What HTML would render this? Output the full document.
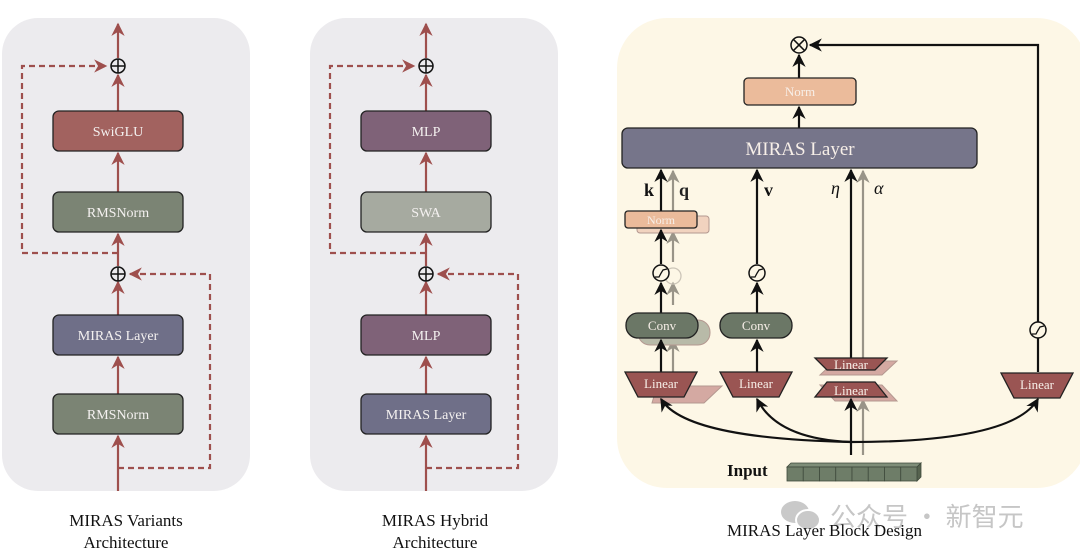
<!DOCTYPE html>
<html><head><meta charset="utf-8"><style>
html,body{margin:0;padding:0;background:#fff;width:1080px;height:558px;overflow:hidden}
svg text{font-family:"Liberation Serif",serif}
</style></head><body>
<svg width="1080" height="558" viewBox="0 0 1080 558" xmlns="http://www.w3.org/2000/svg">
<defs>
<marker id="ar" viewBox="0 0 10 10" refX="9" refY="5" markerWidth="6" markerHeight="6" orient="auto-start-reverse"><path d="M0,0 L10,5 L0,10 L3,5 Z" fill="#9e4f4d"/></marker>
<marker id="ab" viewBox="0 0 10 10" refX="9" refY="5" markerWidth="6" markerHeight="6" orient="auto-start-reverse"><path d="M0,0 L10,5 L0,10 L3,5 Z" fill="#111"/></marker>
<marker id="ag" viewBox="0 0 10 10" refX="9" refY="5" markerWidth="6" markerHeight="6" orient="auto-start-reverse"><path d="M0,0 L10,5 L0,10 L3,5 Z" fill="#999488"/></marker>
</defs>

<!-- Panel 1 -->
<rect x="2" y="18" width="248" height="473" rx="36" fill="#ecebee"/>
<g stroke="#9e4f4d" stroke-width="2.2" fill="none">
<line x1="118" y1="491" x2="118" y2="436" marker-end="url(#ar)"/>
<line x1="118" y1="394" x2="118" y2="357" marker-end="url(#ar)"/>
<line x1="118" y1="315" x2="118" y2="282" marker-end="url(#ar)"/>
<line x1="118" y1="266" x2="118" y2="234" marker-end="url(#ar)"/>
<line x1="118" y1="192" x2="118" y2="153" marker-end="url(#ar)"/>
<line x1="118" y1="111" x2="118" y2="75" marker-end="url(#ar)"/>
<line x1="118" y1="58" x2="118" y2="24" marker-end="url(#ar)"/>
<polyline points="118,253 22,253 22,66 106,66" stroke-dasharray="6,4" marker-end="url(#ar)"/>
<polyline points="118,468 210,468 210,274 130,274" stroke-dasharray="6,4" marker-end="url(#ar)"/>
</g>
<g stroke="#111" stroke-width="1.5" fill="none">
<circle cx="118" cy="66" r="7"/><line x1="111" y1="66" x2="125" y2="66"/><line x1="118" y1="59" x2="118" y2="73"/>
<circle cx="118" cy="274" r="7"/><line x1="111" y1="274" x2="125" y2="274"/><line x1="118" y1="267" x2="118" y2="281"/>
</g>
<g stroke="#222" stroke-width="1.3">
<rect x="53" y="111" width="130" height="40" rx="6" fill="#a2625f"/>
<rect x="53" y="192" width="130" height="40" rx="6" fill="#7b8474"/>
<rect x="53" y="315" width="130" height="40" rx="6" fill="#6f6f88"/>
<rect x="53" y="394" width="130" height="40" rx="6" fill="#7b8474"/>
</g>
<g fill="#f4f1f0" font-size="14" text-anchor="middle">
<text x="118" y="136">SwiGLU</text><text x="118" y="217">RMSNorm</text>
<text x="118" y="340">MIRAS Layer</text><text x="118" y="419">RMSNorm</text>
</g>
<g fill="#111" font-size="17" text-anchor="middle">
<text x="126" y="526">MIRAS Variants</text><text x="126" y="548">Architecture</text>
</g>

<!-- Panel 2 -->
<rect x="310" y="18" width="248" height="473" rx="36" fill="#ecebee"/>
<g stroke="#9e4f4d" stroke-width="2.2" fill="none">
<line x1="426" y1="491" x2="426" y2="436" marker-end="url(#ar)"/>
<line x1="426" y1="394" x2="426" y2="357" marker-end="url(#ar)"/>
<line x1="426" y1="315" x2="426" y2="282" marker-end="url(#ar)"/>
<line x1="426" y1="266" x2="426" y2="234" marker-end="url(#ar)"/>
<line x1="426" y1="192" x2="426" y2="153" marker-end="url(#ar)"/>
<line x1="426" y1="111" x2="426" y2="75" marker-end="url(#ar)"/>
<line x1="426" y1="58" x2="426" y2="24" marker-end="url(#ar)"/>
<polyline points="426,253 330,253 330,66 414,66" stroke-dasharray="6,4" marker-end="url(#ar)"/>
<polyline points="426,468 518,468 518,274 438,274" stroke-dasharray="6,4" marker-end="url(#ar)"/>
</g>
<g stroke="#111" stroke-width="1.5" fill="none">
<circle cx="426" cy="66" r="7"/><line x1="419" y1="66" x2="433" y2="66"/><line x1="426" y1="59" x2="426" y2="73"/>
<circle cx="426" cy="274" r="7"/><line x1="419" y1="274" x2="433" y2="274"/><line x1="426" y1="267" x2="426" y2="281"/>
</g>
<g stroke="#222" stroke-width="1.3">
<rect x="361" y="111" width="130" height="40" rx="6" fill="#7f6278"/>
<rect x="361" y="192" width="130" height="40" rx="6" fill="#a6aaa0"/>
<rect x="361" y="315" width="130" height="40" rx="6" fill="#7f6278"/>
<rect x="361" y="394" width="130" height="40" rx="6" fill="#6f6f88"/>
</g>
<g fill="#f4f1f0" font-size="14" text-anchor="middle">
<text x="426" y="136">MLP</text><text x="426" y="217">SWA</text>
<text x="426" y="340">MLP</text><text x="426" y="419">MIRAS Layer</text>
</g>
<g fill="#111" font-size="17" text-anchor="middle">
<text x="435" y="526">MIRAS Hybrid</text><text x="435" y="548">Architecture</text>
</g>

<!-- Panel 3 -->
<rect x="617" y="18" width="470" height="470" rx="50" fill="#fdf7e6"/>

<g stroke="#999488" stroke-width="2.2" fill="none">
<line x1="673" y1="397" x2="673" y2="340" marker-end="url(#ag)"/>
<line x1="673" y1="305" x2="673" y2="283" marker-end="url(#ag)"/>
<line x1="673" y1="262" x2="673" y2="232" marker-end="url(#ag)"/>
<line x1="673" y1="212" x2="673" y2="171" marker-end="url(#ag)"/>
<line x1="863" y1="455" x2="863" y2="400" marker-end="url(#ag)"/>
<line x1="863" y1="360" x2="863" y2="171" marker-end="url(#ag)"/>
</g>
<g stroke="#b49890" stroke-width="1" >
<rect x="637" y="216" width="72" height="17" rx="3" fill="#f1d3bf"/>
<rect x="638" y="320" width="72" height="25" rx="12" fill="#b8baa8"/>
<polygon points="657,386 722,386 704,403 652,403" fill="#d4a9a2"/>
<polygon points="835,361 897,361 882,375 820,375" fill="#d4a9a2"/>
<polygon points="820,385 882,385 897,401 835,401" fill="#d4a9a2"/>
</g>
<circle cx="673" cy="276" r="8" fill="none" stroke="#ccc5b8" stroke-width="1.3"/>

<g stroke="#111" stroke-width="2.2" fill="none">
<line x1="799" y1="128" x2="799" y2="107" marker-end="url(#ab)"/>
<line x1="799" y1="78" x2="799" y2="55" marker-end="url(#ab)"/>
<polyline points="1038,372 1038,45 810,45" marker-end="url(#ab)"/>
<line x1="661" y1="372" x2="661" y2="340" marker-end="url(#ab)"/>
<line x1="661" y1="313" x2="661" y2="283" marker-end="url(#ab)"/>
<line x1="661" y1="264" x2="661" y2="230" marker-end="url(#ab)"/>
<line x1="661" y1="211" x2="661" y2="170" marker-end="url(#ab)"/>
<line x1="757" y1="372" x2="757" y2="340" marker-end="url(#ab)"/>
<line x1="757" y1="313" x2="757" y2="283" marker-end="url(#ab)"/>
<line x1="757" y1="264" x2="757" y2="170" marker-end="url(#ab)"/>
<line x1="851" y1="358" x2="851" y2="170" marker-end="url(#ab)"/>
<line x1="851" y1="455" x2="851" y2="399" marker-end="url(#ab)"/>
<path d="M851,442 C760,440 680,430 661,399" marker-end="url(#ab)"/>
<path d="M851,442 C800,440 770,425 757,399" marker-end="url(#ab)"/>
<path d="M851,442 C950,442 1020,430 1038,399" marker-end="url(#ab)"/>
</g>
<g stroke="#111" stroke-width="1.5" fill="none">
<circle cx="799" cy="45" r="8"/><line x1="793.3" y1="39.3" x2="804.7" y2="50.7"/><line x1="804.7" y1="39.3" x2="793.3" y2="50.7"/>
</g>
<g stroke="#111" stroke-width="1.5" fill="#fdf7e6">
<circle cx="661" cy="273" r="8"/><circle cx="757" cy="273" r="8"/><circle cx="1038" cy="330" r="8"/>
</g>
<g stroke="#111" stroke-width="1.3" fill="none">
<path d="M655,277 L659,277 Q661,273 663,270 L667,269"/>
<path d="M751,277 L755,277 Q757,273 759,270 L763,269"/>
<path d="M1032,334 L1036,334 Q1038,330 1040,327 L1044,326"/>
</g>
<g stroke="#222" stroke-width="1.3">
<rect x="744" y="78" width="112" height="27" rx="4" fill="#ebbb9b"/>
<rect x="622" y="128" width="355" height="40" rx="6" fill="#76758a"/>
<rect x="625" y="211" width="72" height="17" rx="3" fill="#ebbb9b"/>
<rect x="626" y="313" width="72" height="25" rx="12" fill="#6b7766"/>
<rect x="720" y="313" width="72" height="25" rx="12" fill="#6b7766"/>
<polygon points="625,372 697,372 684,397 638,397" fill="#9a5553"/>
<polygon points="720,372 792,372 779,397 733,397" fill="#9a5553"/>
<polygon points="815,358 887,358 875,370 827,370" fill="#9a5553"/>
<polygon points="827,382 875,382 887,397 815,397" fill="#9a5553"/>
<polygon points="1001,373 1073,373 1060,398 1014,398" fill="#9a5553"/>
</g>
<g fill="#f7efe8" text-anchor="middle">
<text x="800" y="96" font-size="13">Norm</text>
<text x="800" y="155" font-size="19">MIRAS Layer</text>
<text x="661" y="224" font-size="12">Norm</text>
<text x="662" y="330" font-size="13">Conv</text>
<text x="756" y="330" font-size="13">Conv</text>
<text x="661" y="388" font-size="13">Linear</text>
<text x="756" y="388" font-size="13">Linear</text>
<text x="851" y="369" font-size="13">Linear</text>
<text x="851" y="395" font-size="13">Linear</text>
<text x="1037" y="389" font-size="13">Linear</text>
</g>
<g fill="#111" font-size="18">
<text x="644" y="196" font-weight="bold">k</text>
<text x="679" y="196" font-weight="bold" fill="#222">q</text>
<text x="764" y="196" font-weight="bold">v</text>
<text x="831" y="194" font-style="italic">η</text>
<text x="874" y="194" font-style="italic">α</text>
<text x="727" y="476" font-weight="bold" font-size="17">Input</text>
</g>
<g stroke="#3f4a3c" stroke-width="0.8" fill="#6e7d68">
<polygon points="787,467 917,467 921,463 791,463" fill="#7f8e79"/>
<polygon points="917,467 921,463 921,477 917,481" fill="#56634f"/>
<rect x="787" y="467" width="16.25" height="14"/><rect x="803.25" y="467" width="16.25" height="14"/>
<rect x="819.5" y="467" width="16.25" height="14"/><rect x="835.75" y="467" width="16.25" height="14"/>
<rect x="852" y="467" width="16.25" height="14"/><rect x="868.25" y="467" width="16.25" height="14"/>
<rect x="884.5" y="467" width="16.25" height="14"/><rect x="900.75" y="467" width="16.25" height="14"/>
</g>
<g fill="#c9c9c9">
<ellipse cx="795" cy="512" rx="14" ry="11"/><ellipse cx="808" cy="520" rx="12" ry="10" stroke="#fff" stroke-width="2"/>
</g>
<text x="830" y="526" font-size="26" fill="#c6c6c6" style="font-family:'Noto Sans CJK SC',sans-serif">公众号 · 新智元</text>
<text x="727" y="536" font-size="17" fill="#111">MIRAS Layer Block Design</text>
</svg>
</body></html>
